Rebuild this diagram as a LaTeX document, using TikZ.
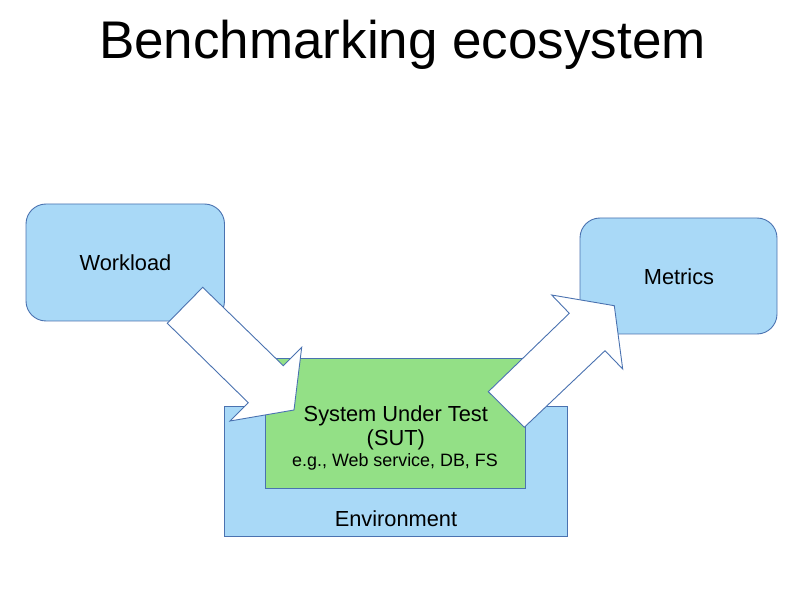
\documentclass[tikz,border=0pt]{standalone}
\usepackage{fontspec}
\setmainfont{Liberation Sans}
\definecolor{boxblue}{HTML}{A9D9F7}
\definecolor{boxgreen}{HTML}{93E086}
\definecolor{edgeblue}{HTML}{4A72B0}
\begin{document}
\begin{tikzpicture}[x=1pt,y=-1pt,
  bluebox/.style={draw=edgeblue,fill=boxblue,line width=0.9pt},
  greenbox/.style={draw=edgeblue,fill=boxgreen,line width=0.9pt},
  bigarrow/.style={draw=edgeblue,fill=white,line width=0.9pt,line join=miter},
  lbl/.style={font=\fontsize{21.8}{26}\selectfont,align=center,inner sep=0pt}]
\useasboundingbox (0,0) rectangle (801,612);
\node[font=\fontsize{53}{62}\selectfont,inner sep=0pt,anchor=base] (title) at (402.5,58.3) {Benchmarking ecosystem};
% environment and SUT
\draw[bluebox] (224,406) rectangle (567,536);
\node[lbl,anchor=base] (env) at (396,526.7) {Environment};
\draw[greenbox] (265,358) rectangle (525,488);
\node[lbl,anchor=base] (sut1) at (395.8,421) {System Under Test};
\node[lbl,anchor=base] (sut2) at (395.8,445) {(SUT)};
\node[lbl,anchor=base,font=\fontsize{17.9}{21}\selectfont] (sut3) at (395,466.7) {e.g., Web service, DB, FS};
% workload and metrics
\draw[bluebox,rounded corners=20pt] (26,204) rectangle (224.5,321);
\node[lbl,anchor=base] (wl) at (125.5,271) {Workload};
\draw[bluebox,rounded corners=20pt] (580,218) rectangle (777,334);
\node[lbl,anchor=base] (mt) at (679,284.5) {Metrics};
% arrows
\draw[bigarrow] (202.7,287.3) -- (283.3,365.7) -- (301.7,347.3) -- (294,410) -- (230,421) -- (248.3,402.7) -- (167.3,323.3) -- cycle;
\draw[bigarrow] (488.3,391.7) -- (569.3,313.3) -- (551.7,295) -- (614.3,305.7) -- (622.7,369) -- (605,350.7) -- (524.3,427.3) -- cycle;
\end{tikzpicture}
\end{document}
